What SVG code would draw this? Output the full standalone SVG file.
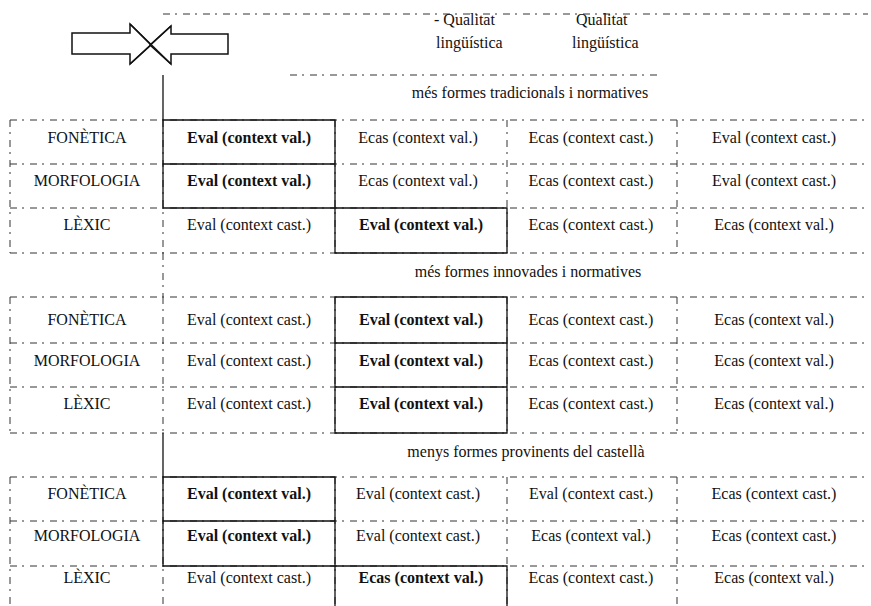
<svg xmlns="http://www.w3.org/2000/svg" width="871" height="606" viewBox="0 0 871 606">
<style>
text{font-family:'Liberation Serif','Times New Roman','DejaVu Serif','Noto Serif',serif;font-size:16px;fill:#111;text-anchor:middle}
.b{font-weight:bold}
.l{text-anchor:start}
.d{stroke:#333;stroke-width:1;stroke-dasharray:7 5 2 6;fill:none}
.s{stroke:#111;stroke-width:1.3;fill:none}
.ar{stroke:#111;stroke-width:1.5;fill:#fff;stroke-linejoin:miter}
</style>
<rect width="871" height="606" fill="#fff"/>
<g id="arrows">
<polygon class="ar" points="72,33 130,33 130,24 151,45 130,64 130,54 72,54"/>
<polygon class="ar" points="228,34 171,34 171,26 150,45 171,64 171,54 228,54"/>
<line class="ar" x1="130" y1="24" x2="171" y2="64"/>
<line class="ar" x1="171" y1="26" x2="130" y2="64"/>
</g>
<g id="header">
<line class="d" x1="163" y1="14" x2="868" y2="14"/>
<line class="d" x1="290" y1="75" x2="660" y2="75"/>
<text class="l" x="434" y="25">- Qualitat</text>
<text class="l" x="576" y="25">Qualitat</text>
<text class="l" x="436" y="48">lingüística</text>
<text class="l" x="572" y="48">lingüística</text>
</g>
<g id="connectors">
<line class="s" x1="163" y1="75" x2="163" y2="120"/>
<line class="d" x1="163" y1="253" x2="163" y2="297"/>
<line class="s" x1="163" y1="433" x2="163" y2="477"/>
</g>
<g id="section1">
<text x="530" y="98">més formes tradicionals i normatives</text>
<g class="grid">
<path class="d" d="M10,120H868M10,164H868M10,208H868M10,253H868M10,120V253M163,120V253M335,120V253M507,120V253M677,120V253"/>
<path class="s" d="M163,120H335V208H163ZM163,164H335M335,208H507V253H335Z"/>
</g>
<g id="s1-fonetica"><text x="87" y="143">FONÈTICA</text><text class="b" x="249" y="143">Eval (context val.)</text><text x="418" y="143">Ecas (context val.)</text><text x="591" y="143">Ecas (context cast.)</text><text x="774" y="143">Eval (context cast.)</text></g>
<g id="s1-morfologia"><text x="87" y="186">MORFOLOGIA</text><text class="b" x="249" y="186">Eval (context val.)</text><text x="418" y="186">Ecas (context val.)</text><text x="591" y="186">Ecas (context cast.)</text><text x="774" y="186">Eval (context cast.)</text></g>
<g id="s1-lexic"><text x="87" y="230">LÈXIC</text><text x="249" y="230">Eval (context cast.)</text><text class="b" x="421" y="230">Eval (context val.)</text><text x="591" y="230">Ecas (context cast.)</text><text x="774" y="230">Ecas (context val.)</text></g>
</g>
<g id="section2">
<text x="528" y="277">més formes innovades i normatives</text>
<g class="grid">
<path class="d" d="M10,297H868M10,343H868M10,387H868M10,433H868M10,297V433M163,297V433M335,297V433M507,297V433M677,297V433"/>
<path class="s" d="M335,297H507V433H335ZM335,343H507M335,387H507"/>
</g>
<g id="s2-fonetica"><text x="87" y="325">FONÈTICA</text><text x="249" y="325">Eval (context cast.)</text><text class="b" x="421" y="325">Eval (context val.)</text><text x="591" y="325">Ecas (context cast.)</text><text x="774" y="325">Ecas (context val.)</text></g>
<g id="s2-morfologia"><text x="87" y="366">MORFOLOGIA</text><text x="249" y="366">Eval (context cast.)</text><text class="b" x="421" y="366">Eval (context val.)</text><text x="591" y="366">Ecas (context cast.)</text><text x="774" y="366">Ecas (context val.)</text></g>
<g id="s2-lexic"><text x="87" y="409">LÈXIC</text><text x="249" y="409">Eval (context cast.)</text><text class="b" x="421" y="409">Eval (context val.)</text><text x="591" y="409">Ecas (context cast.)</text><text x="774" y="409">Ecas (context val.)</text></g>
</g>
<g id="section3">
<text x="526" y="457">menys formes provinents del castellà</text>
<g class="grid">
<path class="d" d="M10,477H868M10,521H868M10,566H868M10,477V606M163,477V606M335,477V606M507,477V606M677,477V606"/>
<path class="s" d="M163,477H335V566H163ZM163,521H335M335,566H507V606M335,566V606"/>
</g>
<g id="s3-fonetica"><text x="87" y="499">FONÈTICA</text><text class="b" x="249" y="499">Eval (context val.)</text><text x="418" y="499">Eval (context cast.)</text><text x="591" y="499">Eval (context cast.)</text><text x="774" y="499">Ecas (context cast.)</text></g>
<g id="s3-morfologia"><text x="87" y="541">MORFOLOGIA</text><text class="b" x="249" y="541">Eval (context val.)</text><text x="418" y="541">Eval (context cast.)</text><text x="591" y="541">Ecas (context val.)</text><text x="774" y="541">Ecas (context cast.)</text></g>
<g id="s3-lexic"><text x="87" y="583">LÈXIC</text><text x="249" y="583">Eval (context cast.)</text><text class="b" x="421" y="583">Ecas (context val.)</text><text x="591" y="583">Ecas (context cast.)</text><text x="774" y="583">Ecas (context val.)</text></g>
</g>
</svg>
